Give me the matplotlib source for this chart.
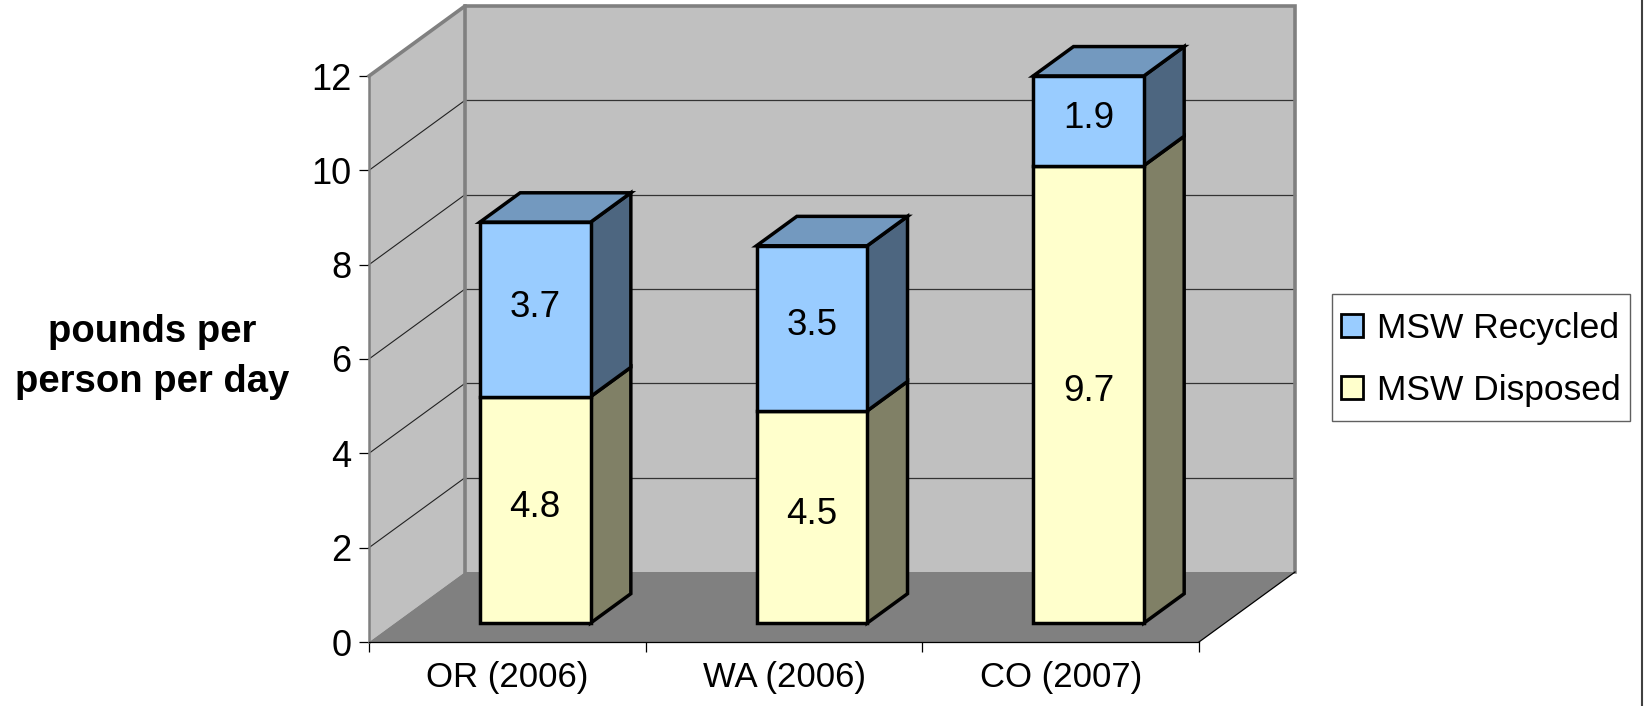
# -*- coding: utf-8 -*-
import matplotlib
matplotlib.use('Agg')
import matplotlib.pyplot as plt
from matplotlib.lines import Line2D
from matplotlib.patches import Patch, Polygon, Rectangle

plt.rcParams['font.family'] = ['Liberation Sans', 'DejaVu Sans']

# Data
categories = ["OR (2006)", "WA (2006)", "CO (2007)"]
disposed = [4.8, 4.5, 9.7]
recycled = [3.7, 3.5, 1.9]
y_ticks = [0, 2, 4, 6, 8, 10, 12]

# Oblique projection of the fake 3D box (depth 1 = back wall)
DX = 0.347
DY = 1.484
d_front = 0.27
d_back = 0.69
bar_w = 0.40
bar_shift = 0.007

W, H = 1644, 706
fig = plt.figure(figsize=(W / 100, H / 100), dpi=100, facecolor="white")
ax = fig.add_axes([369 / W, (H - 642) / H, 830 / W, 566 / H])
ax.set_xlim(0, 3)
ax.set_ylim(0, 12)
ax.patch.set_visible(False)


def proj(x, v, d):
    return (x + d * DX, v + d * DY)


def poly(points, color, z, ec="none", lw=0):
    ax.add_patch(Polygon(points, closed=True, facecolor=color, edgecolor=ec,
                         linewidth=lw, joinstyle="miter", clip_on=False, zorder=z))


# Walls and floor
poly([proj(0, 0, 1), proj(3, 0, 1), proj(3, 12, 1), proj(0, 12, 1)], "#C0C0C0", 1)
poly([proj(0, 0, 0), proj(0, 0, 1), proj(0, 12, 1), proj(0, 12, 0)], "#C0C0C0", 1)
poly([proj(0, 0, 0), proj(3, 0, 0), proj(3, 0, 1), proj(0, 0, 1)], "#808080", 1.5)

# Gridlines on back and side wall
for v in y_ticks[1:-1]:
    a, b, c = proj(0, v, 0), proj(0, v, 1), proj(3, v, 1)
    ax.plot([a[0], b[0]], [a[1], b[1]], color="#222222", lw=0.8, clip_on=False, zorder=2)
    ax.plot([b[0], c[0]], [b[1], c[1]], color="#333333", lw=0.9, clip_on=False, zorder=2)

# Wall outlines
p0, p1, p2, p3 = proj(0, 12, 0), proj(0, 12, 1), proj(3, 12, 1), proj(3, 0, 1)
p4 = proj(0, 0, 1)
ax.plot([p0[0], p1[0], p2[0], p3[0]], [p0[1], p1[1], p2[1], p3[1]],
        color="#808080", lw=2.6, clip_on=False, zorder=2.5, solid_joinstyle="miter")
ax.plot([p1[0], p4[0]], [p1[1], p4[1]], color="#808080", lw=2.6, clip_on=False, zorder=2.5)
e0, e1 = proj(3, 0, 0), proj(3, 0, 1)
ax.plot([e0[0], e1[0]], [e0[1], e1[1]], color="black", lw=0.9, clip_on=False, zorder=2.5)

# Bars
edge_lw = 2.5
for i in range(len(categories)):
    x0 = i + 0.5 + bar_shift - bar_w / 2
    x1 = i + 0.5 + bar_shift + bar_w / 2
    bottoms = [0, disposed[i]]
    heights = [disposed[i], recycled[i]]
    fronts = ["#FFFFCC", "#99CCFF"]
    sides = ["#808066", "#4D6680"]
    for b, h, fc, sc in zip(bottoms, heights, fronts, sides):
        poly([proj(x1, b, d_front), proj(x1, b, d_back),
              proj(x1, b + h, d_back), proj(x1, b + h, d_front)], sc, 3, "black", edge_lw)
        fx, fy = proj(x0, b, d_front)
        ax.bar(fx, h, width=x1 - x0, bottom=fy, align="edge", color=fc, edgecolor="black",
               linewidth=edge_lw, clip_on=False, zorder=4)
        tx, ty = proj(i + 0.5 + bar_shift, b + h / 2 + 0.05, d_front)
        ax.text(tx, ty, f"{h:.1f}", ha="center", va="center", fontsize=26.5, color="black", zorder=5)
    top = disposed[i] + recycled[i]
    poly([proj(x0, top, d_front), proj(x1, top, d_front),
          proj(x1, top, d_back), proj(x0, top, d_back)], "#7399BF", 3.5, "black", edge_lw)

# Axes
for s in ["top", "right"]:
    ax.spines[s].set_visible(False)
ax.spines["left"].set_color("#808080")
ax.spines["left"].set_linewidth(1.8)
ax.spines["left"].set_zorder(2.6)
ax.spines["bottom"].set_color("black")
ax.spines["bottom"].set_linewidth(0.9)
ax.spines["bottom"].set_zorder(2.6)
ax.set_yticks(y_ticks)
ax.tick_params(axis="y", length=7.2, width=0.9, pad=5.5, labelsize=26)
ax.set_xticks([0, 1, 2, 3])
ax.set_xticklabels([])
ax.set_xticks([0.5, 1.5, 2.5], minor=True)
ax.set_xticklabels(categories, minor=True)
ax.tick_params(axis="x", which="major", length=7.2, width=0.9)
ax.tick_params(axis="x", which="minor", length=0, pad=14, labelsize=25)

ax.set_ylabel("pounds per\nperson per day", rotation=0, fontsize=27.5, fontweight="bold",
              ha="center", va="center", linespacing=1.48)
ax.yaxis.set_label_coords((152 - 369) / 830, (642 - 357) / 566)

# Legend, frame drawn separately so its padding can differ per side
fig.add_artist(Rectangle((1332 / W, (H - 421) / H), 298 / W, 127 / H, transform=fig.transFigure,
                         facecolor="white", edgecolor="#606060", linewidth=1.0))
handles = [Patch(facecolor="#99CCFF", edgecolor="black", linewidth=2.0),
           Patch(facecolor="#FFFFCC", edgecolor="black", linewidth=2.0)]
leg = fig.legend(handles, ["MSW Recycled", "MSW Disposed"], loc="center",
                 bbox_to_anchor=(1481 / W, (H - 359.5) / H), fontsize=25.5,
                 frameon=False, handlelength=0.62, handleheight=0.62, handletextpad=0.38,
                 labelspacing=0.81, borderpad=0, borderaxespad=0)

# Dark edge on the right side of the image
fig.add_artist(Line2D([1642 / W, 1642 / W], [0, 1], color="#404040", lw=1.5))

fig.savefig("out.png", dpi=100, facecolor="white")
